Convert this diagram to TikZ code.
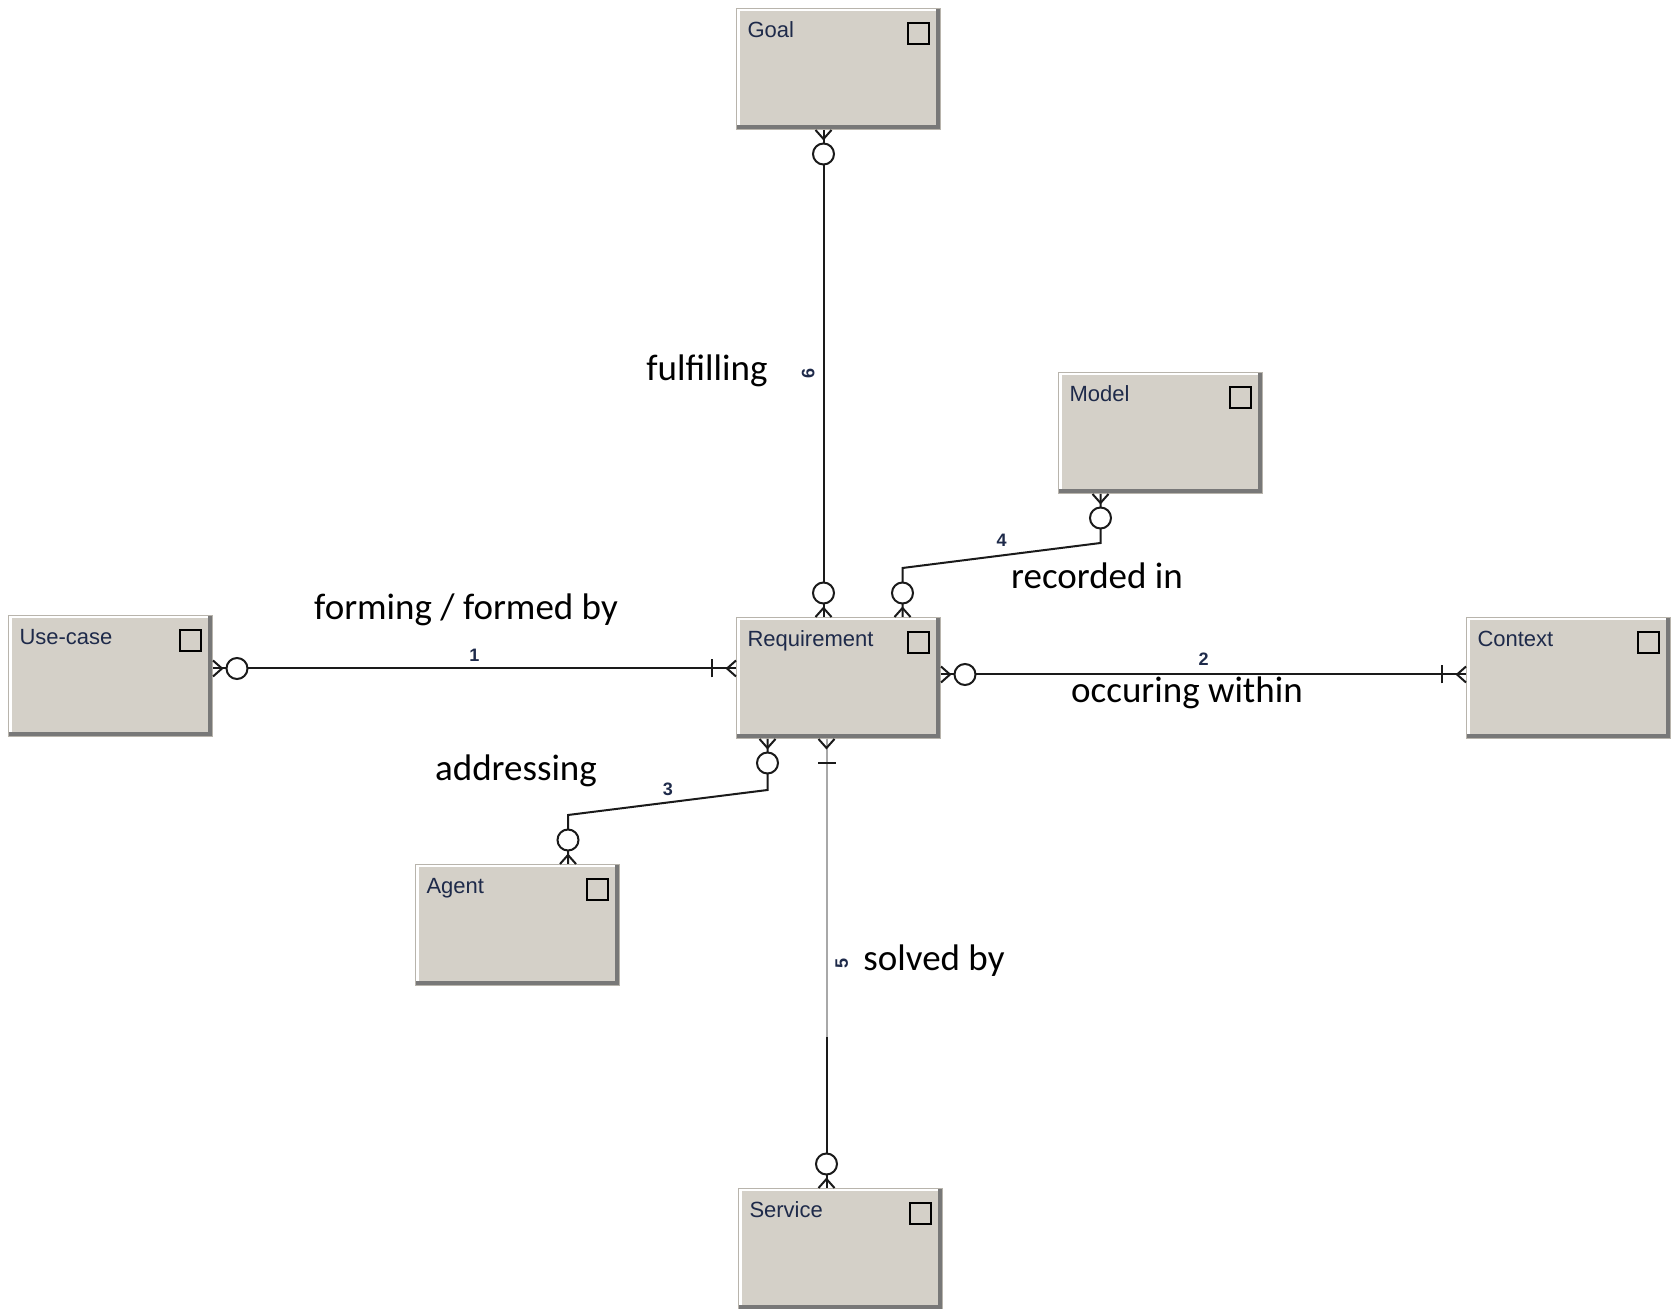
\documentclass[tikz,border=0pt]{standalone}
\usepackage{fontspec}
\setmainfont{Carlito}
\newfontfamily\boxfont{Liberation Sans}
\usetikzlibrary{positioning}
\definecolor{boxface}{HTML}{D4D0C8}
\definecolor{boxshadow}{HTML}{787878}
\definecolor{boxedge}{HTML}{B8B4AC}
\definecolor{titletext}{HTML}{1E2A4A}
\definecolor{linkcol}{HTML}{1A1A1A}
\definecolor{fadecol}{HTML}{A8A8A8}

\tikzset{
  manyopt/.pic={
    \draw[link] (0,4pt) -- (4.5pt,0) -- (0,-4pt);
    \draw[link, fill=white] (12pt,0) circle[radius=5.25pt];
  },
  manyone/.pic={
    \draw[link] (0,4pt) -- (4.5pt,0) -- (0,-4pt);
    \draw[link] (12pt,4.5pt) -- (12pt,-4.5pt);
  }
}

\begin{document}
\begin{tikzpicture}[x=0.5pt, y=-0.5pt,
  link/.style={draw=linkcol, line width=1pt},
  entity/.style={
    rectangle, anchor=north west,
    fill=boxface, draw=boxedge, line width=0.5pt,
    minimum width=102pt, minimum height=60.5pt,
    inner xsep=5.5pt, inner ysep=0pt,
    text width=91pt, text height=14.5pt, text depth=46pt,
    align=left, text=titletext,
    font=\boxfont\fontsize{11}{13}\selectfont,
    path picture={
      \draw[white, line width=3pt]
        (path picture bounding box.south west) -- (path picture bounding box.north west)
        -- (path picture bounding box.north east);
      \draw[boxshadow, line width=4.5pt]
        (path picture bounding box.south west) -- (path picture bounding box.south east)
        -- (path picture bounding box.north east);
      \draw[black, line width=1pt]
        ([shift={(-6pt,-7.5pt)}]path picture bounding box.north east) rectangle ++(-10.5pt,-10.5pt);
    }
  },
  num/.style={font=\boxfont\bfseries\fontsize{9}{10}\selectfont, text=titletext, inner sep=1pt},
  lbl/.style={font=\fontsize{18.5}{22}\selectfont, inner sep=0pt}
]
  \fill[white] (0,0) rectangle (1678,1309);
  \useasboundingbox (0,0) rectangle (1678,1309);

  % Entities
  \node[entity] (goal) at (736,8) {Goal};
  \node[entity] (model) at (1058,372) {Model};
  \node[entity] (usecase) at (8,615) {Use-case};
  \node[entity] (req) at (736,617) {Requirement};
  \node[entity] (context) at (1466,617) {Context};
  \node[entity] (agent) at (415,864) {Agent};
  \node[entity] (service) at (738,1188) {Service};

  % Relationships
  \draw[link] ([yshift=3.75pt]usecase.east) coordinate (u1)
    -- node[num, above=2pt] (n1) {1} (u1 -| req.west) coordinate (u2);
  \draw[link] ([yshift=1.75pt]req.east) coordinate (c1)
    -- node[num, above=3pt] (n2) {2} (c1 -| context.west) coordinate (c2);
  \draw[link] ([shift={(-35.5pt,0pt)}]req.south) coordinate (a1)
    -- ([shift={(-35.5pt,-25.5pt)}]req.south)
    -- node[num, above=2pt] (n3) {3} ([shift={(25.25pt,24.5pt)}]agent.north)
    -- ([xshift=25.25pt]agent.north) coordinate (a2);
  \draw[link] ([xshift=-30pt]model.south) coordinate (m1)
    -- ([shift={(-30pt,-24.5pt)}]model.south)
    -- node[num, above=3pt] (n4) {4} ([shift={(32pt,24.5pt)}]req.north)
    -- ([xshift=32pt]req.north) coordinate (m2);
  \draw[link] ([xshift=-6pt]req.south) coordinate (s1)
    -- node[num, rotate=90, anchor=north, yshift=-3pt] (n5) {5} (s1 |- service.north) coordinate (s2);
  \draw[link, draw=fadecol] (s1) -- ++(0,298);
  \draw[link] ([xshift=-7.5pt]goal.south) coordinate (g1)
    -- node[num, rotate=90, anchor=south, yshift=3pt] (n6) {6} (g1 |- req.north) coordinate (g2);

  % Cardinality ends
  \pic at (u1) {manyopt};
  \pic[rotate=180] at (u2) {manyone};
  \pic at (c1) {manyopt};
  \pic[rotate=180] at (c2) {manyone};
  \pic[rotate=-90] at (a1) {manyopt};
  \pic[rotate=90] at (a2) {manyopt};
  \pic[rotate=-90] at (m1) {manyopt};
  \pic[rotate=90] at (m2) {manyopt};
  \pic[rotate=-90] at (s1) {manyone};
  \pic[rotate=90] at (s2) {manyopt};
  \pic[rotate=-90] at (g1) {manyopt};
  \pic[rotate=90] at (g2) {manyopt};

  % Relationship names
  \node[lbl] (fulfil) at (707,371) {fulfilling};
  \node[lbl] (recorded) at (1097,576) {recorded in};
  \node[lbl] (forming) at (466,610) {forming / formed by};
  \node[lbl] (occuring) at (1187,693) {occuring within};
  \node[lbl] (addressing) at (516,771) {addressing};
  \node[lbl] (solved) at (934,961) {solved by};
\end{tikzpicture}
\end{document}
